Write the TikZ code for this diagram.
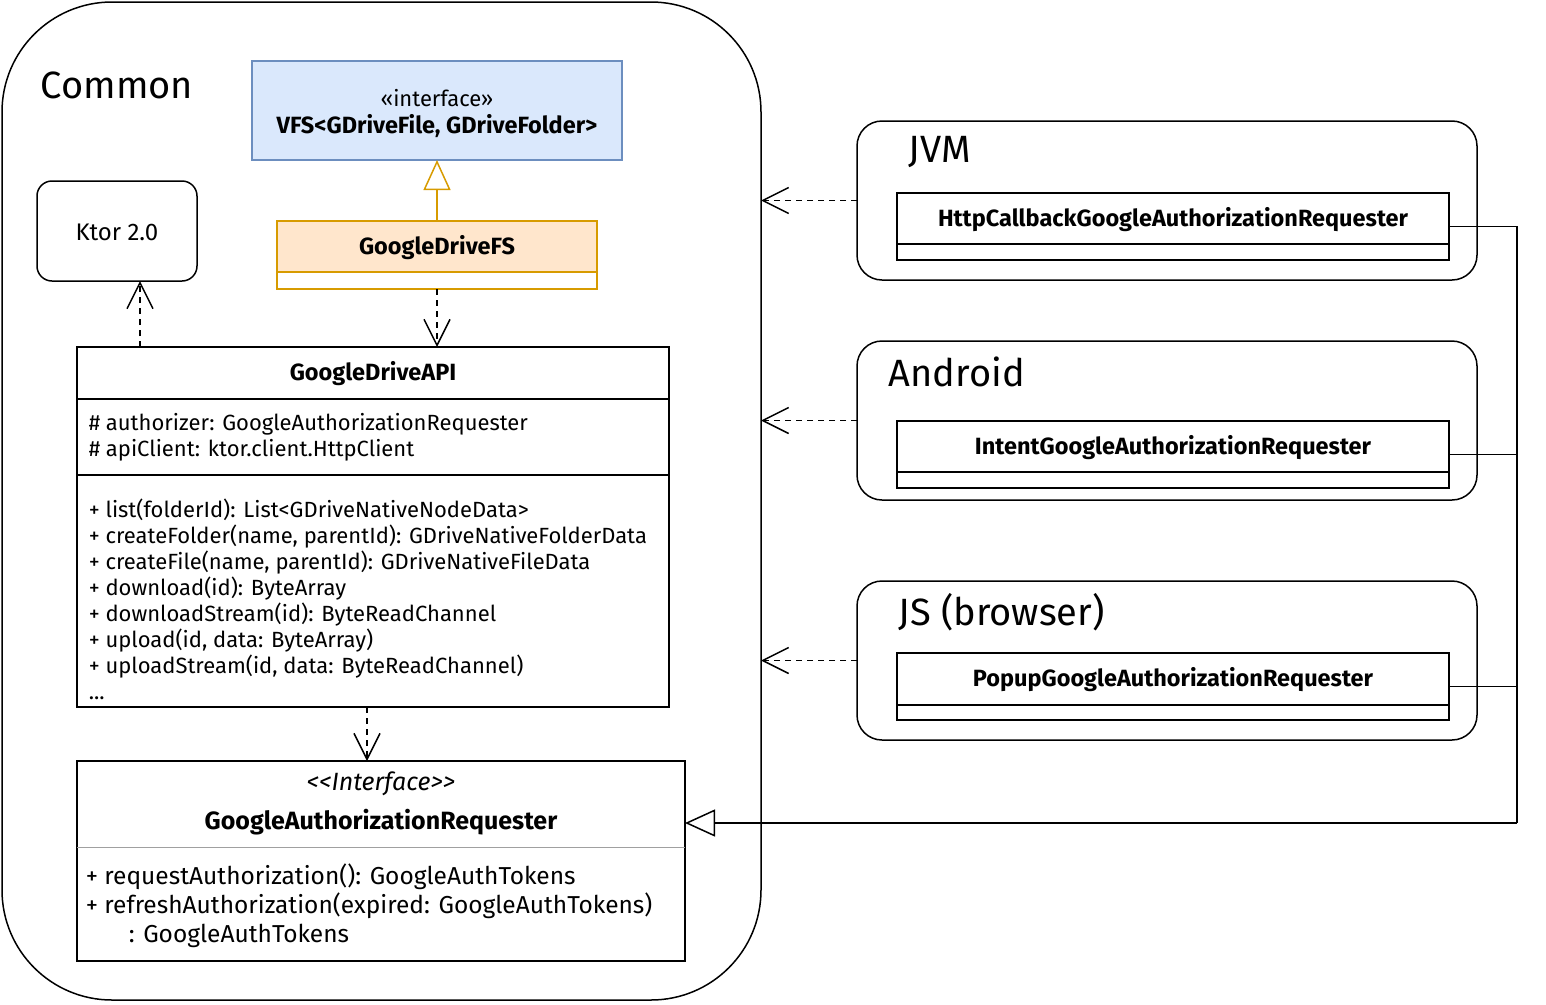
\documentclass[tikz,border=0pt]{standalone}
\usepackage{fontspec}
\setmainfont{Fira Sans}
\usetikzlibrary{arrows.meta}

\definecolor{vfsfill}{HTML}{DAE8FC}
\definecolor{vfsline}{HTML}{6C8EBF}
\definecolor{fsfill}{HTML}{FFE6CC}
\definecolor{fsline}{HTML}{D79B00}
\definecolor{sepgray}{HTML}{A0A0A0}

\tikzset{
  group/.style={rectangle, draw, anchor=north west, inner sep=0pt, outer sep=0pt},
  umlbox/.style={rectangle, draw, anchor=north west, inner sep=0pt, outer sep=0pt},
  grouplabel/.style={anchor=west, inner sep=0pt, font=\fontsize{38}{42}\selectfont},
  classname/.style={inner sep=0pt, font=\fontsize{23.5}{26}\selectfont\bfseries},
  members/.style={anchor=west, inner sep=0pt, align=left, font=\fontsize{22}{26}\selectfont},
  depends/.style={dashed, dash pattern=on 6pt off 5pt,
    -{Straight Barb[length=26pt, width=26pt, line width=1.5pt]}},
  realizes/.style={-{Triangle[open, length=30pt, width=27pt, line width=1.5pt, fill=white]}},
}

\begin{document}
\begin{tikzpicture}[x=1pt, y=-1pt, line width=1.5pt]
  \useasboundingbox (0,0) rectangle (1546,1004);

  % common module
  \node (common) [group, rounded corners=110pt, minimum width=759pt, minimum height=998pt] at (2,2) {};
  \node (commonlabel) [grouplabel] at (40,85) {Common};

  \node (vfs) [umlbox, draw=vfsline, fill=vfsfill, minimum width=370pt, minimum height=99pt] at (252,61) {};
  \node (vfsstereo) [inner sep=0pt, font=\fontsize{22}{26}\selectfont] at (437,98) {«interface»};
  \node (vfsname) [classname] at (437,126) {VFS<GDriveFile, GDriveFolder>};

  \node (fs) [umlbox, draw=fsline, fill=fsfill, minimum width=320pt, minimum height=51pt] at (277,221) {};
  \node (fsbody) [umlbox, draw=fsline, fill=white, minimum width=320pt, minimum height=17pt] at (277,272) {};
  \node (fsname) [classname] at (437,248) {GoogleDriveFS};

  \node (ktor) [umlbox, rounded corners=15pt, minimum width=160pt, minimum height=100pt] at (37,181) {};
  \node (ktorname) [inner sep=0pt, font=\fontsize{24}{28}\selectfont] at (117,232) {Ktor 2.0};

  \node (api) [umlbox, minimum width=592pt, minimum height=360pt] at (77,347) {};
  \draw (77,399) -- (669,399);
  \draw (77,475) -- (669,475);
  \node (apiname) [classname] at (373,374) {GoogleDriveAPI};
  \node (apiattrs) [members] at (88,437) {\# authorizer: GoogleAuthorizationRequester\\
    \# apiClient: ktor.client.HttpClient};
  \node (apiops) [members] at (88,599) {+ list(folderId): List<GDriveNativeNodeData>\\
    + createFolder(name, parentId): GDriveNativeFolderData\\
    + createFile(name, parentId): GDriveNativeFileData\\
    + download(id): ByteArray\\
    + downloadStream(id): ByteReadChannel\\
    + upload(id, data: ByteArray)\\
    + uploadStream(id, data: ByteReadChannel)\\
    ...};

  \node (authreq) [umlbox, minimum width=608pt, minimum height=200pt] at (77,761) {};
  \draw [sepgray, line width=1pt] (77,847) -- (685,847);
  \node (authstereo) [inner sep=0pt, font=\fontsize{25}{28}\selectfont\itshape] at (381,784) {<{}<Interface>{}>};
  \node (authname) [classname, font=\fontsize{25}{28}\selectfont\bfseries] at (381,822) {GoogleAuthorizationRequester};
  \node (authops) [members, font=\fontsize{24.5}{29}\selectfont] at (85,906) {+ requestAuthorization(): GoogleAuthTokens\\
    + refreshAuthorization(expired: GoogleAuthTokens)\\
    \hspace*{43pt}: GoogleAuthTokens};

  % platform modules
  \node (jvm) [group, rounded corners=25pt, minimum width=620pt, minimum height=159pt] at (857,121) {};
  \node (jvmlabel) [grouplabel] at (908,152) {JVM};
  \node (httpreq) [umlbox, minimum width=552pt, minimum height=67pt] at (897,193) {};
  \draw (897,244) -- (1449,244);
  \node (httpname) [classname] at (1173,220) {HttpCallbackGoogleAuthorizationRequester};

  \node (android) [group, rounded corners=25pt, minimum width=620pt, minimum height=159pt] at (857,341) {};
  \node (androidlabel) [grouplabel] at (888,372) {Android};
  \node (intentreq) [umlbox, minimum width=552pt, minimum height=67pt] at (897,421) {};
  \draw (897,472) -- (1449,472);
  \node (intentname) [classname] at (1173,448) {IntentGoogleAuthorizationRequester};

  \node (js) [group, rounded corners=25pt, minimum width=620pt, minimum height=159pt] at (857,581) {};
  \node (jslabel) [grouplabel] at (898,612) {JS (browser)};
  \node (popupreq) [umlbox, minimum width=552pt, minimum height=67pt] at (897,653) {};
  \draw (897,705) -- (1449,705);
  \node (popupname) [classname] at (1173,680) {PopupGoogleAuthorizationRequester};

  % connectors
  \coordinate (kdep) at (140,0);
  \coordinate (rdep) at (367,0);
  \coordinate (bus) at (1517,823);

  \draw [realizes, fsline] (fs.north) -- (vfs.south);
  \draw [depends] (fsbody.south) -- (fsbody.south |- api.north);
  \draw [depends] (api.north -| kdep) -- (ktor.south -| kdep);
  \draw [depends] (api.south -| rdep) -- (authreq.north -| rdep);

  \draw [depends] (jvm.west) -- (jvm.west -| common.east);
  \draw [depends] (android.west) -- (android.west -| common.east);
  \draw [depends] (js.west) -- (js.west -| common.east);

  \draw (httpreq.east) -- (httpreq.east -| bus) -- (bus);
  \draw (intentreq.east) -- (intentreq.east -| bus);
  \draw (popupreq.east) -- (popupreq.east -| bus);
  \draw [realizes] (bus) -- (bus -| authreq.east);
\end{tikzpicture}
\end{document}
